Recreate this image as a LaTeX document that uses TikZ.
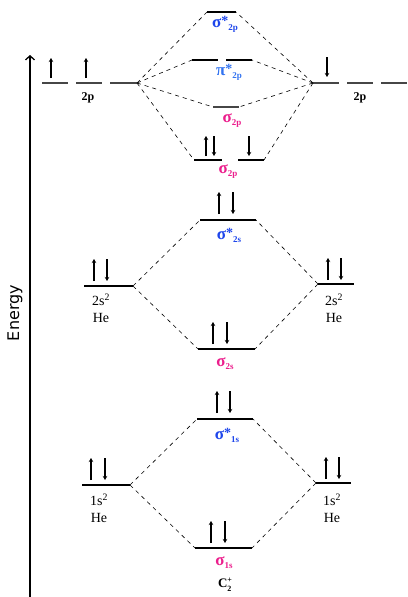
\documentclass[tikz,border=0pt]{standalone}
\usepackage{fontspec}
\setmainfont{Liberation Serif}
\newfontfamily\energyfont{DejaVu Sans}
\usetikzlibrary{arrows.meta}
\definecolor{sigblue}{RGB}{30,70,235}
\definecolor{piblue}{RGB}{50,115,240}
\definecolor{sigpink}{RGB}{235,30,140}
\definecolor{levgray}{RGB}{70,70,70}
\newcommand{\moorb}[3]{{\fontsize{17}{17}\selectfont\bfseries #1}{\fontsize{14}{14}\selectfont\raisebox{2pt}{\bfseries #2}}{\fontsize{9}{9}\selectfont\bfseries\raisebox{-3pt}{#3}}}
\tikzset{
  level/.style={line width=1.1pt, black},
  plevel/.style={line width=1.2pt, levgray},
  corr/.style={line width=0.6pt, dash pattern=on 4pt off 4pt},
  spinup/.style={line width=1.3pt, -{Stealth[length=4pt,width=4.5pt]}},
  lbl/.style={inner sep=0pt, font=\fontsize{14}{14}\selectfont},
  orblbl/.style={inner sep=0pt},
  plbl/.style={inner sep=0pt, font=\fontsize{12}{12}\selectfont\bfseries}
}
\begin{document}
\begin{tikzpicture}[x=1pt,y=-1pt]
\useasboundingbox (0,0) rectangle (407,597);
% axis
\coordinate (axB) at (30,597);
\coordinate (axT) at (30,55);
\draw[line width=1.3pt, -{Straight Barb[length=4pt,width=9pt]}] (axB) -- (axT);
\node[rotate=90, inner sep=0pt, font=\energyfont\fontsize{16}{16}\selectfont] (energy) at (15,313) {Energy};

% ---------- 2p left
\coordinate (pl1a) at (42,83); \coordinate (pl1b) at (68,83);
\coordinate (pl2a) at (76,83); \coordinate (pl2b) at (102,83);
\coordinate (pl3a) at (110,83); \coordinate (pl3b) at (137,83);
\draw[plevel] (pl1a) -- (pl1b); \draw[plevel] (pl2a) -- (pl2b); \draw[plevel] (pl3a) -- (pl3b);
\draw[spinup] (51,78) -- (51,58);
\draw[spinup] (86,78) -- (86,58);
\node[plbl] (p2L) at (88,98) {2p};
% ---------- 2p right
\coordinate (pr1a) at (313,83); \coordinate (pr1b) at (339,83);
\coordinate (pr2a) at (347,83); \coordinate (pr2b) at (373,83);
\coordinate (pr3a) at (381,83); \coordinate (pr3b) at (407,83);
\draw[plevel] (pr1a) -- (pr1b); \draw[plevel] (pr2a) -- (pr2b); \draw[plevel] (pr3a) -- (pr3b);
\draw[spinup] (327,57) -- (327,77);
\node[plbl] (p2R) at (360,98) {2p};

% ---------- sigma*2p
\coordinate (ss2pa) at (207,12); \coordinate (ss2pb) at (236,12);
\draw[level] (ss2pa) -- (ss2pb);
\node[orblbl, text=sigblue] (lss2p) at (225,24) {\moorb{σ}{*}{2p}};
% ---------- pi*2p
\coordinate (ps1a) at (192,60); \coordinate (ps1b) at (218,60);
\coordinate (ps2a) at (226,60); \coordinate (ps2b) at (252,60);
\draw[level] (ps1a) -- (ps1b); \draw[level] (ps2a) -- (ps2b);
\node[orblbl, text=piblue] (lps) at (229,72) {\moorb{π}{*}{2p}};
% ---------- sigma2p
\coordinate (s2pa) at (213,107); \coordinate (s2pb) at (239,107);
\draw[plevel] (s2pa) -- (s2pb);
\node[orblbl, text=sigpink] (ls2p) at (232,121) {\moorb{σ}{}{2p}};
% ---------- lower sigma2p (two levels)
\coordinate (p1a) at (194,160); \coordinate (p1b) at (222,160);
\coordinate (p2a) at (238,160); \coordinate (p2b) at (264,160);
\draw[level] (p1a) -- (p1b); \draw[level] (p2a) -- (p2b);
\draw[spinup] (206,156) -- (206,136);
\draw[spinup] (214,136) -- (214,156);
\draw[spinup] (249,136) -- (249,156);
\node[orblbl, text=sigpink] (lp2p) at (228,172) {\moorb{σ}{}{2p}};

% correlation lines 2p
\draw[corr] (pl3b) -- (ss2pa);
\draw[corr] (pl3b) -- (ps1a);
\draw[corr] (pl3b) -- (s2pa);
\draw[corr] (pl3b) -- (p1a);
\draw[corr] (pr1a) -- (ss2pb);
\draw[corr] (pr1a) -- (ps2b);
\draw[corr] (pr1a) -- (s2pb);
\draw[corr] (pr1a) -- (p2b);

% ---------- sigma*2s
\coordinate (ss2sa) at (200,220); \coordinate (ss2sb) at (256,220);
\draw[level] (ss2sa) -- (ss2sb);
\draw[spinup] (219,214) -- (219,192);
\draw[spinup] (233,192) -- (233,214);
\node[orblbl, text=sigblue] (lss2s) at (229,235) {\moorb{σ}{*}{2s}};
% ---------- 2s left / right
\coordinate (l2sa) at (84,286); \coordinate (l2sb) at (133,286);
\draw[level] (l2sa) -- (l2sb);
\draw[spinup] (94,281) -- (94,259);
\draw[spinup] (107,259) -- (107,281);
\node[lbl] (l2slab) at (101,300) {2s\textsuperscript{2}};
\node[lbl] (l2she) at (101,318) {He};
\coordinate (r2sa) at (318,284); \coordinate (r2sb) at (354,284);
\draw[level] (r2sa) -- (r2sb);
\draw[spinup] (328,280) -- (328,258);
\draw[spinup] (341,258) -- (341,280);
\node[lbl] (r2slab) at (334,300) {2s\textsuperscript{2}};
\node[lbl] (r2she) at (334,318) {He};
% ---------- sigma2s
\coordinate (s2sa) at (198,349); \coordinate (s2sb) at (255,349);
\draw[level] (s2sa) -- (s2sb);
\draw[spinup] (213,344) -- (213,322);
\draw[spinup] (227,322) -- (227,344);
\node[orblbl, text=sigpink] (ls2s) at (225,364) {\moorb{σ}{}{2s}};
% correlation 2s
\draw[corr] (l2sb) -- (ss2sa);
\draw[corr] (l2sb) -- (s2sa);
\draw[corr] (r2sa) -- (ss2sb);
\draw[corr] (r2sa) -- (s2sb);

% ---------- sigma*1s
\coordinate (ss1sa) at (197,419); \coordinate (ss1sb) at (253,419);
\draw[level] (ss1sa) -- (ss1sb);
\draw[spinup] (217,413) -- (217,391);
\draw[spinup] (230,391) -- (230,413);
\node[orblbl, text=sigblue] (lss1s) at (227,435) {\moorb{σ}{*}{1s}};
% ---------- 1s left / right
\coordinate (l1sa) at (82,485); \coordinate (l1sb) at (130,485);
\draw[level] (l1sa) -- (l1sb);
\draw[spinup] (91,480) -- (91,458);
\draw[spinup] (105,458) -- (105,480);
\node[lbl] (l1slab) at (99,500) {1s\textsuperscript{2}};
\node[lbl] (l1she) at (99,518) {He};
\coordinate (r1sa) at (316,483); \coordinate (r1sb) at (351,483);
\draw[level] (r1sa) -- (r1sb);
\draw[spinup] (326,479) -- (326,457);
\draw[spinup] (339,457) -- (339,479);
\node[lbl] (r1slab) at (332,500) {1s\textsuperscript{2}};
\node[lbl] (r1she) at (332,518) {He};
% ---------- sigma1s
\coordinate (s1sa) at (195,548); \coordinate (s1sb) at (252,548);
\draw[level] (s1sa) -- (s1sb);
\draw[spinup] (211,543) -- (211,521);
\draw[spinup] (225,521) -- (225,543);
\node[orblbl, text=sigpink] (ls1s) at (224,563) {\moorb{σ}{}{1s}};
\node[inner sep=0pt, font=\fontsize{13}{13}\selectfont\bfseries] (mol) at (225,585) {C\rlap{\raisebox{-4pt}{\fontsize{8}{8}\selectfont 2}}\raisebox{5pt}{\fontsize{8}{8}\selectfont +}};
% correlation 1s
\draw[corr] (l1sb) -- (ss1sa);
\draw[corr] (l1sb) -- (s1sa);
\draw[corr] (r1sa) -- (ss1sb);
\draw[corr] (r1sa) -- (s1sb);
\end{tikzpicture}
\end{document}
